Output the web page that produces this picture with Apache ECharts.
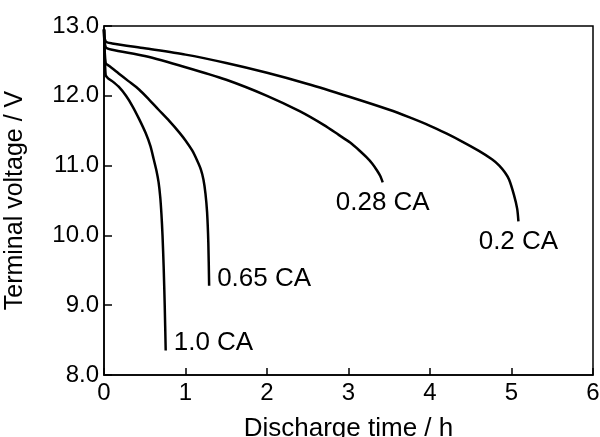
<!DOCTYPE html>
<html><head><meta charset="utf-8">
<script src="https://cdn.jsdelivr.net/npm/echarts@6/dist/echarts.min.js"></script>
<style>html,body{margin:0;padding:0;background:#fff}#c{width:600px;height:437px}</style>
</head><body><div id="c"></div>
<script>
const xTicks = [0, 1, 2, 3, 4, 5, 6];
const yTicks = [8, 9, 10, 11, 12, 13];
const seriesNames = ['1.0 CA', '0.65 CA', '0.28 CA', '0.2 CA'];
const t10 = [0, 0.02, 0.05, 0.10, 0.18, 0.27, 0.35, 0.43, 0.51, 0.57, 0.61, 0.645, 0.67, 0.69, 0.705, 0.718, 0.732, 0.745, 0.757];
const v10 = [12.95, 12.30, 12.25, 12.21, 12.13, 12.00, 11.85, 11.67, 11.47, 11.28, 11.09, 10.92, 10.76, 10.55, 10.30, 10.00, 9.55, 9.00, 8.35];
const t065 = [0, 0.02, 0.06, 0.18, 0.30, 0.43, 0.55, 0.67, 0.80, 0.92, 1.00, 1.08, 1.14, 1.19, 1.22, 1.245, 1.265, 1.28, 1.29];
const v065 = [12.95, 12.47, 12.43, 12.32, 12.21, 12.09, 11.95, 11.80, 11.64, 11.48, 11.36, 11.22, 11.08, 10.94, 10.80, 10.60, 10.33, 9.90, 9.28];
const t028 = [0, 0.02, 0.1, 0.5, 1.0, 1.5, 2.0, 2.4, 2.7, 2.88, 3.02, 3.13, 3.22, 3.29, 3.35, 3.39, 3.42];
const v028 = [12.95, 12.70, 12.66, 12.57, 12.41, 12.23, 12.00, 11.78, 11.58, 11.44, 11.33, 11.22, 11.12, 11.03, 10.93, 10.85, 10.76];
const t02 = [0, 0.02, 0.1, 0.5, 1.0, 1.5, 2.0, 2.5, 3.0, 3.5, 3.75, 4.0, 4.2, 4.4, 4.6, 4.76, 4.85, 4.92, 4.97, 5.03, 5.07, 5.085];
const v02 = [12.95, 12.78, 12.75, 12.68, 12.59, 12.47, 12.33, 12.17, 11.99, 11.80, 11.69, 11.57, 11.46, 11.34, 11.21, 11.09, 11.00, 10.90, 10.80, 10.58, 10.38, 10.20];

const times = [t10, t065, t028, t02];
const volts = [v10, v065, v028, v02];
const labelOffsets = [[8, -8], [8, -7], [0, 20], [0, 20]];
const labelAligns = ['left', 'left', 'center', 'center'];

const FONT = '"Liberation Sans", Arial, sans-serif';
const chart = echarts.init(document.getElementById('c'), null, {renderer: 'canvas'});

const series = seriesNames.map((name, i) => {
  const data = times[i].map((t, k) => [t, volts[i][k]]);
  const last = data[data.length - 1];
  return {
    name: name,
    type: 'line',
    data: data,
    showSymbol: false,
    smooth: 0.25,
    lineStyle: {color: '#000', width: 2.5},
    itemStyle: {color: '#000'},
    animation: false,
    markPoint: {
      symbol: 'circle',
      symbolSize: 0,
      animation: false,
      data: [{coord: last, value: name}],
      label: {
        show: true,
        formatter: name,
        position: 'inside',
        align: labelAligns[i],
        verticalAlign: 'middle',
        offset: labelOffsets[i],
        color: '#000',
        fontSize: 26,
        fontFamily: FONT
      }
    }
  };
});

chart.setOption({
  animation: false,
  backgroundColor: '#fff',
  grid: {left: 104, right: 7, top: 26, bottom: 62, show: true, borderColor: '#000', borderWidth: 1.5,
         containLabel: false, outerBoundsMode: 'none'},
  xAxis: {
    type: 'value', min: xTicks[0], max: xTicks[xTicks.length - 1], interval: 1,
    name: 'Discharge time / h', nameLocation: 'middle', nameGap: 41,
    nameTextStyle: {fontSize: 26, color: '#000', fontFamily: FONT},
    axisLine: {show: true, lineStyle: {color: '#000', width: 1.5}},
    axisTick: {show: true, inside: true, length: 7, lineStyle: {color: '#000', width: 1.5}},
    axisLabel: {fontSize: 24, color: '#000', fontFamily: FONT, margin: 6},
    splitLine: {show: false}
  },
  yAxis: {
    type: 'value', min: yTicks[0], max: yTicks[yTicks.length - 1], interval: 1,
    name: 'Terminal voltage / V', nameLocation: 'middle', nameGap: 76,
    nameTextStyle: {fontSize: 25, color: '#000', fontFamily: FONT},
    axisLine: {show: true, lineStyle: {color: '#000', width: 1.5}},
    axisTick: {show: true, inside: true, length: 8, lineStyle: {color: '#000', width: 1.5}},
    axisLabel: {fontSize: 24, color: '#000', fontFamily: FONT, margin: 5, formatter: v => v.toFixed(1)},
    splitLine: {show: false}
  },
  series: series
});
</script></body></html>
